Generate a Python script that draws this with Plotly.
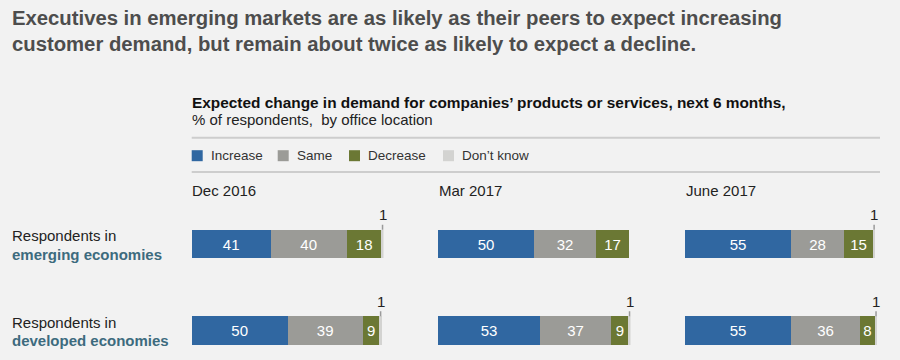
import plotly.graph_objects as go

# ---------------- data ----------------
periods = ["Dec 2016", "Mar 2017", "June 2017"]
row_intro = ["Respondents in", "Respondents in"]
row_names = ["emerging economies", "developed economies"]
series_names = ["Increase", "Same", "Decrease", "Don’t know"]

# values per period: [emerging, developed]
increase = [[41, 50], [50, 53], [55, 55]]
same = [[40, 39], [32, 37], [28, 36]]
decrease = [[18, 9], [17, 9], [15, 8]]
dont_know = [[1, 1], [0, 1], [1, 1]]

# ---------------- style ----------------
W, H = 900, 360
BG = "#f2f2f2"
colors = ["#3067a1", "#9b9b97", "#6b7834", "#d3d3d1"]
FONT = "Liberation Sans, Arial, Helvetica, sans-serif"
teal = "#3d6b7e"

col_domains_px = [(191.7, 383.5), (438.0, 630.5), (685.0, 877.0)]
row_center0, row_step = 244.0, 86.5
bar_px = 28.5
bar_width = bar_px / row_step
y_top_px = 180.0


def py(px):
    return 1 - px / H


series_values = [increase, same, decrease, dont_know]
fig = go.Figure()
rows = list(range(len(row_names)))

for p, period in enumerate(periods):
    xa = "x" if p == 0 else f"x{p+1}"
    for s, name in enumerate(series_names):
        vals = [series_values[s][p][r] for r in rows]
        is_dk = s == 3
        fig.add_trace(go.Bar(
            x=vals, y=rows, orientation="h", name=name,
            xaxis=xa, yaxis="y",
            width=bar_width,
            marker=dict(color=colors[s], line=dict(width=0)),
            text=None if is_dk else [str(v) for v in vals],
            textposition="none" if is_dk else "inside",
            insidetextanchor="middle",
            constraintext="none",
            textfont=dict(color="white", size=15, family=FONT),
            showlegend=False, hoverinfo="x+name",
        ))
    # small "Don't know" call-outs
    for r in rows:
        dk = dont_know[p][r]
        if dk > 0:
            base = increase[p][r] + same[p][r] + decrease[p][r]
            fig.add_annotation(
                x=base + dk / 2, y=r - bar_width / 2,
                xref=xa, yref="y",
                text=str(dk), showarrow=True, arrowhead=0,
                arrowwidth=1.5, arrowcolor="#9a9a9a",
                ax=0, ay=-15, standoff=0, startstandoff=0,
                font=dict(size=15, color="#222", family=FONT),
            )
    # column title
    fig.add_annotation(
        x=(col_domains_px[p][0] - 1.5) / W, y=py(190), xref="paper", yref="paper",
        text=period, showarrow=False, xanchor="left", yanchor="middle",
        font=dict(size=15, color="#222", family=FONT),
    )

layout_axes = {}
for p in range(len(periods)):
    key = "xaxis" if p == 0 else f"xaxis{p+1}"
    d0, d1 = col_domains_px[p]
    layout_axes[key] = dict(domain=[d0 / W, d1 / W], range=[0, 100],
                            visible=False, anchor="y", fixedrange=True)

y_lo = (H - row_center0) / row_step
y_hi = (y_top_px - row_center0) / row_step
layout_axes["yaxis"] = dict(domain=[0, py(y_top_px)], range=[y_lo, y_hi],
                            visible=False, anchor="x", fixedrange=True)

fig.update_layout(
    width=W, height=H, margin=dict(l=0, r=0, t=0, b=0),
    paper_bgcolor=BG, plot_bgcolor=BG, barmode="stack", bargap=0,
    font=dict(family=FONT),
    **layout_axes,
)

# row labels
for r in rows:
    c = row_center0 + r * row_step
    fig.add_annotation(x=10 / W, y=py(c - 8.5), xref="paper", yref="paper",
                       text=row_intro[r], showarrow=False, xanchor="left",
                       yanchor="middle", font=dict(size=15, color="#222", family=FONT))
    fig.add_annotation(x=10 / W, y=py(c + 10), xref="paper", yref="paper",
                       text=f"<b>{row_names[r]}</b>", showarrow=False, xanchor="left",
                       yanchor="middle", font=dict(size=15, color=teal, family=FONT))

# headline
fig.add_annotation(
    x=10 / W, y=py(30.5), xref="paper", yref="paper", showarrow=False,
    xanchor="left", yanchor="middle", align="left",
    text="<b>Executives in emerging markets are as likely as their peers to expect increasing<br>"
         "customer demand, but remain about twice as likely to expect a decline.</b>",
    font=dict(size=20.3, color="#4d4d4d", family=FONT),
)
# chart subtitle
fig.add_annotation(
    x=189.5 / W, y=py(102), xref="paper", yref="paper", showarrow=False,
    xanchor="left", yanchor="middle",
    text="<b>Expected change in demand for companies’ products or services, next 6 months,</b>",
    font=dict(size=15.4, color="#111", family=FONT),
)
fig.add_annotation(
    x=189.5 / W, y=py(120), xref="paper", yref="paper", showarrow=False,
    xanchor="left", yanchor="middle",
    text="% of respondents,  by office location",
    font=dict(size=15, color="#222", family=FONT),
)

# rules
for ypx in (137.7, 172.0):
    fig.add_shape(type="line", xref="paper", yref="paper",
                  x0=191.7 / W, x1=880 / W, y0=py(ypx), y1=py(ypx),
                  line=dict(color="#cdcdcd", width=2))

# legend (manual)
legend_sq_x = [191.7, 277.7, 349.0, 443.0]
sq = 11
leg_y = 155.7
for s, name in enumerate(series_names):
    x0 = legend_sq_x[s]
    fig.add_shape(type="rect", xref="paper", yref="paper",
                  x0=x0 / W, x1=(x0 + sq) / W,
                  y0=py(leg_y - sq / 2), y1=py(leg_y + sq / 2),
                  fillcolor=colors[s], line=dict(width=0))
    fig.add_annotation(x=(x0 + sq + 6) / W, y=py(leg_y), xref="paper", yref="paper",
                       text=name, showarrow=False, xanchor="left", yanchor="middle",
                       font=dict(size=13.5, color="#333", family=FONT))

fig.write_html("out.html", config={"displayModeBar": False},
               post_script="document.body.style.margin='0';document.body.style.overflow='hidden';")
